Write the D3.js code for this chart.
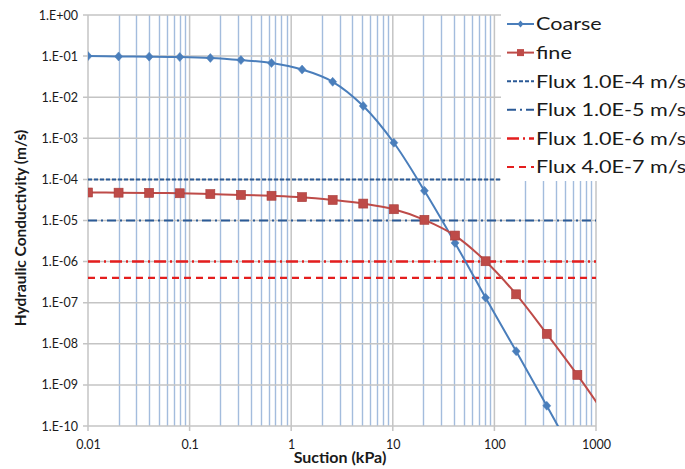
<!DOCTYPE html>
<html><head><meta charset="utf-8">
<script src="https://cdn.jsdelivr.net/npm/d3@7"></script>
<style>body{margin:0;background:#fff}svg{display:block}</style>
</head><body>
<svg id="c" width="685" height="469"></svg>
<script>
// Data
const suction = [0.01,0.02,0.04,0.08,0.16,0.32,0.64,1.28,2.56,5.12,10.24,20.48,40.96,81.92,163.84,327.68,655.36,1310.72];
const coarseK = [0.1,0.098,0.097,0.095,0.09,0.08,0.068,0.047,0.0237,0.0061,7.8e-4,5.3e-5,2.85e-6,1.32e-7,6.6e-9,3.1e-10,1.4e-11,6e-13];
const fineK = [4.8e-5,4.75e-5,4.7e-5,4.6e-5,4.4e-5,4.2e-5,4.0e-5,3.7e-5,3.16e-5,2.58e-5,1.88e-5,1.04e-5,4.3e-6,1.02e-6,1.6e-7,1.75e-8,1.75e-9,1.5e-10];
const fluxNames = ["Flux 1.0E-4 m/s","Flux 1.0E-5 m/s","Flux 1.0E-6 m/s","Flux 4.0E-7 m/s"];
const fluxValues = [1e-4,1e-5,1e-6,4e-7];
const xTicks = [0.01,0.1,1,10,100,1000];
const xTickLabels = ["0.01","0.1","1","10","100","1000"];
const yTicks = [1,1e-1,1e-2,1e-3,1e-4,1e-5,1e-6,1e-7,1e-8,1e-9,1e-10];
const yTickLabels = ["1.E+00","1.E-01","1.E-02","1.E-03","1.E-04","1.E-05","1.E-06","1.E-07","1.E-08","1.E-09","1.E-10"];

const fluxStyles = [
  {color:"#2b5a96", width:2, dash:"4,2"},
  {color:"#2b5a96", width:2, dash:"9,4,2,4"},
  {color:"#e41e1e", width:2.5, dash:"12,4,2,4"},
  {color:"#e41e1e", width:2.2, dash:"7,5"}
];

const svg = d3.select("#c");
const font = "Lato, 'Liberation Sans', sans-serif";
const L = 88, R = 596, T = 15, B = 426;
const x = d3.scaleLog().domain([0.01,1000]).range([L,R]);
const y = d3.scaleLog().domain([1e-10,1]).range([B,T]);

svg.append("defs").append("clipPath").attr("id","pc")
  .append("rect").attr("x",L).attr("y",T).attr("width",R-L).attr("height",B-T);

// minor vertical gridlines
const minors = [];
for (let e=-2;e<3;e++) for (let m=2;m<10;m++) minors.push(m*Math.pow(10,e));
svg.append("g").selectAll("line").data(minors).join("line")
  .attr("x1",d=>Math.round(x(d))+0.5).attr("x2",d=>Math.round(x(d))+0.5)
  .attr("y1",T).attr("y2",B).attr("stroke","#a3bcdd").attr("stroke-width",1.4);

// major gridlines
svg.append("g").selectAll("line").data(xTicks).join("line")
  .attr("x1",d=>x(d)).attr("x2",d=>x(d)).attr("y1",T).attr("y2",B+5)
  .attr("stroke","#c4c4c4").attr("stroke-width",1.5);
svg.append("g").selectAll("line").data(yTicks).join("line")
  .attr("x1",L-5).attr("x2",R).attr("y1",d=>y(d)).attr("y2",d=>y(d))
  .attr("stroke","#c4c4c4").attr("stroke-width",1.5);

// axes labels via d3 axes (no domain/ticks drawn)
const xAxis = d3.axisBottom(x).tickValues(xTicks).tickFormat((d,i)=>xTickLabels[i]).tickSize(0).tickPadding(14);
const gx = svg.append("g").attr("transform",`translate(0,${B})`).call(xAxis);
const yAxis = d3.axisLeft(y).tickValues(yTicks).tickFormat((d,i)=>yTickLabels[i]).tickSize(0).tickPadding(10);
const gy = svg.append("g").attr("transform",`translate(${L},0)`).call(yAxis);
[gx,gy].forEach(g=>{g.select(".domain").remove();
  g.selectAll("text").attr("font-family",font).attr("font-size",12.5).attr("fill","#1a1a1a");});

// flux lines
const plot = svg.append("g").attr("clip-path","url(#pc)");
fluxValues.forEach((v,i)=>{
  plot.append("line").attr("x1",L).attr("x2",R).attr("y1",y(v)).attr("y2",y(v))
    .attr("stroke",fluxStyles[i].color).attr("stroke-width",fluxStyles[i].width)
    .attr("stroke-dasharray",fluxStyles[i].dash);
});

const line = d3.line().x(d=>x(d[0])).y(d=>y(d[1])).curve(d3.curveCatmullRom.alpha(0.5));
const coarse = suction.map((s,i)=>[s,coarseK[i]]);
const fine = suction.map((s,i)=>[s,fineK[i]]);
plot.append("path").attr("d",line(coarse)).attr("fill","none").attr("stroke","#4a7ebb").attr("stroke-width",2);
plot.append("path").attr("d",line(fine)).attr("fill","none").attr("stroke","#be4b48").attr("stroke-width",2);

const inRange = d=>d[0]<=1000 && d[1]>=1e-10;
plot.selectAll(".cm").data(coarse.filter(inRange)).join("path").attr("class","cm")
  .attr("transform",d=>`translate(${x(d[0])},${y(d[1])})`)
  .attr("d","M0,-4.5L4,0L0,4.5L-4,0Z").attr("fill","#4a7ebb").attr("stroke","#4a7ebb").attr("stroke-width",0.5);
plot.selectAll(".fm").data(fine.filter(inRange)).join("rect").attr("class","fm")
  .attr("x",d=>x(d[0])-4.5).attr("y",d=>y(d[1])-4.5).attr("width",9).attr("height",9)
  .attr("fill","#be4b48").attr("stroke","#a83d3a").attr("stroke-width",0.6);

// legend
const lg = svg.append("g");
lg.append("rect").attr("x",501).attr("y",0).attr("width",184).attr("height",181).attr("fill","#fff");
const legendItems = [
  {name:"Coarse", color:"#4a7ebb", width:2, dash:null, marker:"diamond"},
  {name:"fine", color:"#be4b48", width:2, dash:null, marker:"square"},
  ...fluxNames.map((n,i)=>({name:n, color:fluxStyles[i].color, width:fluxStyles[i].width, dash:fluxStyles[i].dash, marker:null}))
];
legendItems.forEach((it,i)=>{
  const cy = 24 + i*28.6;
  const g = lg.append("g").attr("transform",`translate(0,${cy})`);
  g.append("line").attr("x1",507).attr("x2",534).attr("y1",0).attr("y2",0)
    .attr("stroke",it.color).attr("stroke-width",it.width).attr("stroke-dasharray",it.dash);
  if (it.marker==="diamond") g.append("path").attr("transform","translate(520.5,0)").attr("d","M0,-3.5L3,0L0,3.5L-3,0Z").attr("fill",it.color);
  if (it.marker==="square") g.append("rect").attr("x",517).attr("y",-3.5).attr("width",7).attr("height",7).attr("fill",it.color);
  g.append("text").attr("transform","translate(536,0) scale(1.2,1)").attr("dy","0.36em").text(it.name)
    .attr("font-family",font).attr("font-size",18).attr("fill","#1a1a1a");
});

// axis titles
svg.append("text").attr("x",340).attr("y",463).attr("text-anchor","middle")
  .attr("font-family",font).attr("font-weight","bold").attr("font-size",16).attr("fill","#1a1a1a")
  .text("Suction (kPa)");
svg.append("text").attr("transform","translate(26,228) rotate(-90)").attr("text-anchor","middle")
  .attr("font-family",font).attr("font-weight","bold").attr("font-size",15.5).attr("fill","#1a1a1a")
  .text("Hydraulic Conductivity (m/s)");
</script>
</body></html>
